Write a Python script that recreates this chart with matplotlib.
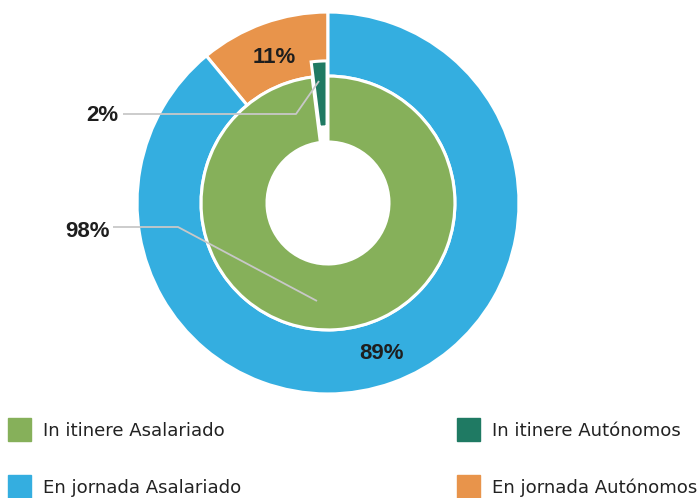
import matplotlib
matplotlib.use("Agg")
import matplotlib.pyplot as plt
from matplotlib.patches import Rectangle

# data
outer_labels = ["En jornada Autónomos", "En jornada Asalariado"]
outer_values = [11, 89]
inner_labels = ["In itinere Autónomos", "In itinere Asalariado"]
inner_values = [2, 98]
inner_pct = ["2%", "98%"]

colors = {
    "In itinere Asalariado": "#86b05a",
    "In itinere Autónomos": "#1f7a63",
    "En jornada Asalariado": "#34aee0",
    "En jornada Autónomos": "#e8944b",
}
legend_order = ["In itinere Asalariado", "In itinere Autónomos",
                "En jornada Asalariado", "En jornada Autónomos"]

W, H = 698, 498
CX, CY, R = 328, 203, 190.0


def px(x, y):
    # pixel position -> data coords
    return (x - CX) / R, (CY - y) / R


def main():
    fig = plt.figure(figsize=(W / 100, H / 100), dpi=100)
    ax = fig.add_axes([0, 0, 1, 1])

    lab_font = dict(family="Liberation Sans", fontweight="bold",
                    fontsize=16, color="#1e1e1e")

    wp = dict(edgecolor="white", linewidth=2.2)
    ax.pie(outer_values, colors=[colors[l] for l in outer_labels],
           startangle=90, counterclock=True, radius=1.005,
           wedgeprops=dict(width=0.337, **wp),
           autopct="%.0f%%", pctdistance=0.825,
           textprops=dict(va="center_baseline", **lab_font))
    ax.pie(inner_values, colors=[colors[l] for l in inner_labels],
           startangle=90, counterclock=True, radius=0.668,
           explode=[0.08, 0], wedgeprops=dict(width=0.347, **wp))

    # leader lines and outside labels for the inner ring
    lines = [[(123, 114), (296, 114), (319, 81)],
             [(113, 227), (178, 227), (317, 301)]]
    label_pos = [(102, 113), (87, 229)]
    for pts, lab, pos in zip(lines, inner_pct, label_pos):
        xs, ys = zip(*[px(*p) for p in pts])
        ax.plot(xs, ys, color="#c8c8c8", lw=1.3, solid_capstyle="butt")
        ax.text(*px(*pos), lab, ha="center", va="center_baseline", **lab_font)

    ax.set_xlim(-CX / R, (W - CX) / R)
    ax.set_ylim(-(H - CY) / R, CY / R)
    ax.set_axis_off()

    # legend, two columns
    cols = [8, 457]
    rows = [418, 475]
    for i, lab in enumerate(legend_order):
        x0 = cols[i % 2]
        y0 = rows[i // 2]
        fig.patches.append(Rectangle((x0 / W, 1 - (y0 + 23) / H), 23 / W, 23 / H,
                                     transform=fig.transFigure,
                                     color=colors[lab]))
        fig.text((x0 + 35) / W, 1 - (y0 + 12.5) / H, lab, ha="left",
                 va="center", fontsize=13.1, color="#222222",
                 family="DejaVu Sans")

    fig.savefig("out.png", dpi=100)


if __name__ == "__main__":
    main()
